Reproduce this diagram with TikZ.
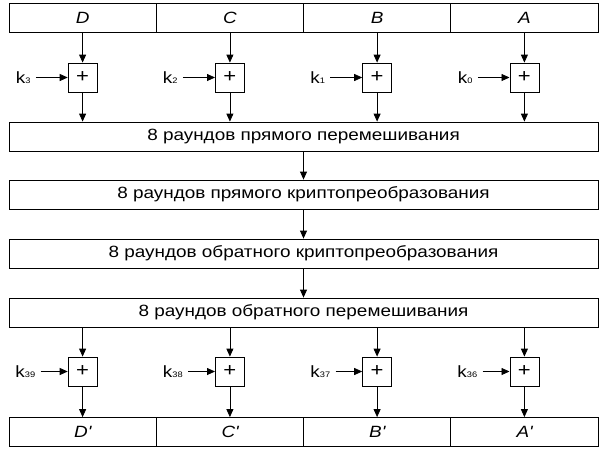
\documentclass[tikz,border=0pt]{standalone}
\usepackage{fontspec}
\setmainfont{Liberation Sans}[FakeStretch=1.16]
\usetikzlibrary{arrows.meta}

\newcommand{\keyname}[1]{k{\fontsize{8}{9}\selectfont #1}}

\begin{document}
\begin{tikzpicture}[x=1pt,y=-1pt,
        line width=0.8pt,
        font=\fontsize{16.3}{18}\selectfont,
        >={Triangle[length=8pt,width=7pt]},
        word/.style={draw, minimum width=147.25pt, minimum height=29pt, inner sep=0pt, font=\fontsize{16.3}{18}\selectfont\itshape},
        adder/.style={draw, minimum size=29pt, inner sep=0pt, font=\fontsize{19}{20}\selectfont},
        stage/.style={draw, minimum width=589pt, minimum height=29pt, inner sep=0pt},
        key/.style={anchor=west, inner xsep=5pt, inner ysep=1pt}]
        \useasboundingbox (0,0) rectangle (600,448);

        % Input words
        \node[word] (D) at (82.6,17.5) {D};
        \node[word] (C) at (229.9,17.5) {C};
        \node[word] (B) at (377.1,17.5) {B};
        \node[word] (A) at (524.4,17.5) {A};

        % Input key adders
        \node[adder] (x3) at (82.6,77.5) {+};
        \node[adder] (x2) at (229.9,77.5) {+};
        \node[adder] (x1) at (377.1,77.5) {+};
        \node[adder] (x0) at (524.4,77.5) {+};
        \node[key] (k3) at (10.5,77.5) {\keyname{3}};
        \node[key] (k2) at (157.5,77.5) {\keyname{2}};
        \node[key] (k1) at (305,77.5) {\keyname{1}};
        \node[key] (k0) at (452.5,77.5) {\keyname{0}};

        % Rounds
        \node[stage] (s1) at (303.5,136.5) {8 раундов прямого перемешивания};
        \node[stage] (s2) at (303.5,194.5) {8 раундов прямого криптопреобразования};
        \node[stage] (s3) at (303.5,253.5) {8 раундов обратного криптопреобразования};
        \node[stage] (s4) at (303.5,312.5) {8 раундов обратного перемешивания};

        % Output key adders
        \node[adder] (y3) at (82.6,371.5) {+};
        \node[adder] (y2) at (229.9,371.5) {+};
        \node[adder] (y1) at (377.1,371.5) {+};
        \node[adder] (y0) at (524.4,371.5) {+};
        \node[key] (k39) at (10,371.5) {\keyname{39}};
        \node[key] (k38) at (157.5,371.5) {\keyname{38}};
        \node[key] (k37) at (305,371.5) {\keyname{37}};
        \node[key] (k36) at (452,371.5) {\keyname{36}};

        % Output words
        \node[word] (D') at (82.6,432) {D\textquotesingle};
        \node[word] (C') at (229.9,432) {C\textquotesingle};
        \node[word] (B') at (377.1,432) {B\textquotesingle};
        \node[word] (A') at (524.4,432) {A\textquotesingle};

        % Arrows
        \draw[->] (D) -- (x3);
        \draw[->] (C) -- (x2);
        \draw[->] (B) -- (x1);
        \draw[->] (A) -- (x0);
        \draw[->] (k3) -- (x3);
        \draw[->] (k2) -- (x2);
        \draw[->] (k1) -- (x1);
        \draw[->] (k0) -- (x0);
        \draw[->] (x3) -- (x3 |- s1.north);
        \draw[->] (x2) -- (x2 |- s1.north);
        \draw[->] (x1) -- (x1 |- s1.north);
        \draw[->] (x0) -- (x0 |- s1.north);
        \draw[->] (s1) -- (s2);
        \draw[->] (s2) -- (s3);
        \draw[->] (s3) -- (s4);
        \draw[->] (y3 |- s4.south) -- (y3);
        \draw[->] (y2 |- s4.south) -- (y2);
        \draw[->] (y1 |- s4.south) -- (y1);
        \draw[->] (y0 |- s4.south) -- (y0);
        \draw[->] (k39) -- (y3);
        \draw[->] (k38) -- (y2);
        \draw[->] (k37) -- (y1);
        \draw[->] (k36) -- (y0);
        \draw[->] (y3) -- (D');
        \draw[->] (y2) -- (C');
        \draw[->] (y1) -- (B');
        \draw[->] (y0) -- (A');
\end{tikzpicture}
\end{document}
